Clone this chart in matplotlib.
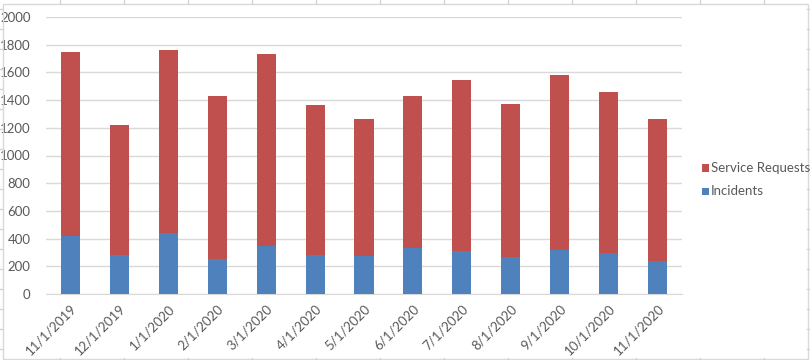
import numpy as np
import matplotlib.pyplot as plt
from matplotlib.patches import Rectangle
from matplotlib.lines import Line2D

plt.rcParams['font.family'] = ['Lato', 'DejaVu Sans']

# Datos
meses = ['11/1/2019', '12/1/2019', '1/1/2020', '2/1/2020', '3/1/2020', '4/1/2020',
         '5/1/2020', '6/1/2020', '7/1/2020', '8/1/2020', '9/1/2020', '10/1/2020',
         '11/1/2020']
incidents = np.array([420, 280, 440, 255, 350, 280, 275, 335, 310, 265, 320, 295, 240])
totales = np.array([1745, 1220, 1765, 1430, 1730, 1365, 1265, 1430, 1545, 1372, 1580, 1458, 1265])
service_requests = totales - incidents

azul = '#4F81BD'
rojo = '#C0504D'
gris_texto = '#595959'
gris_linea = '#D9D9D9'

fig = plt.figure(figsize=(8.1, 3.6), dpi=100)
ax = fig.add_axes([46 / 810, 1 - 294 / 360, 636 / 810, 277 / 360])

x = np.arange(len(meses))
ax.bar(x, incidents, width=0.39, color=azul, label='Incidents', zorder=3)
ax.bar(x, service_requests, width=0.39, bottom=incidents, color=rojo,
       label='Service Requests', zorder=3)

ax.set_xlim(-0.5, len(meses) - 0.5)
ax.set_ylim(0, 2000)
ax.set_yticks(np.arange(0, 2001, 200))
ax.yaxis.grid(True, color=gris_linea, linewidth=1, zorder=0)
ax.set_xticks(x)
ax.set_xticklabels(meses, rotation=45, ha='right', rotation_mode='anchor')
ax.tick_params(axis='both', length=0, labelsize=9.5, colors=gris_texto)
ax.tick_params(axis='y', pad=11)
ax.tick_params(axis='x', pad=6)
for s in ['top', 'right', 'left']:
    ax.spines[s].set_visible(False)
ax.spines['bottom'].set_color(gris_linea)

# Leyenda dibujada a mano (Service Requests arriba)
entradas = [('Service Requests', rojo, 168), ('Incidents', azul, 191)]
for texto, color, yp in entradas:
    fig.add_artist(Rectangle((702 / 810, 1 - (yp + 3.5) / 360), 7 / 810, 7 / 360,
                             facecolor=color, edgecolor='none', transform=fig.transFigure))
    fig.text(711 / 810, 1 - yp / 360, texto, ha='left', va='center',
             fontsize=9.5, color=gris_texto)

# Borde del grafico y lineas de la hoja de calculo
fig.add_artist(Rectangle((2.5 / 810, 1.5 / 360), 805 / 810, 355 / 360, fill=False,
                         edgecolor='#D9D9D9', linewidth=1, transform=fig.transFigure))
for xc in range(60, 810, 64):
    fig.add_artist(Line2D([xc / 810, xc / 810], [1 - 3 / 360, 1], color='#D4D4D4', lw=1))
    fig.add_artist(Line2D([xc / 810, xc / 810], [0, 2 / 360], color='#D4D4D4', lw=1))
for yc in range(9, 360, 20):
    fig.add_artist(Line2D([0, 2 / 810], [1 - yc / 360, 1 - yc / 360], color='#D4D4D4', lw=1))
    fig.add_artist(Line2D([807 / 810, 1], [1 - yc / 360, 1 - yc / 360], color='#D4D4D4', lw=1))

fig.savefig('out.png', dpi=100)
